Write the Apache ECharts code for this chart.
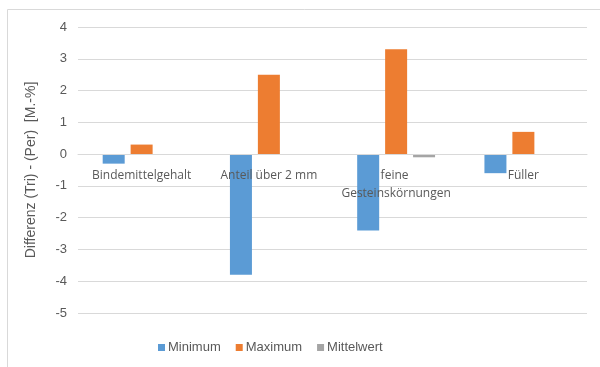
<!DOCTYPE html>
<html>
<head>
<meta charset="utf-8">
<script src="https://cdn.jsdelivr.net/npm/echarts@6/dist/echarts.min.js"></script>
<style>
  html, body { margin: 0; padding: 0; background: #fff; }
  #chart { width: 600px; height: 367px; }
</style>
</head>
<body>
<div id="chart"></div>
<script>
// Kategorien und Werte
var categories = ['Bindemittelgehalt', 'Anteil über 2 mm', 'feine Gesteinskörnungen', 'Füller'];
var minimum = [-0.3, -3.8, -2.4, -0.6];
var maximum = [0.3, 2.5, 3.3, 0.7];
var mittelwert = [0, 0, -0.1, 0];
var seriesNames = ['Minimum', 'Maximum', 'Mittelwert'];
var colors = ['#5B9BD5', '#ED7D31', '#A5A5A5'];

var yMin = -5, yMax = 4;
var gridTop = 27, gridBottom = 54;
var chartH = 367;

var chart = echarts.init(document.getElementById('chart'));

// Abstand der Nulllinie vom unteren Rand des Plotbereichs
var plotH = chartH - gridTop - gridBottom;
var zeroOffset = plotH * (0 - yMin) / (yMax - yMin);

function barSeries(name, data, color) {
    return {
        name: name,
        type: 'bar',
        data: data,
        barWidth: 22,
        barGap: '27%',
        itemStyle: { color: color }
    };
}

chart.setOption({
    animation: false,
    color: colors,
    graphic: [{
        type: 'rect',
        shape: { x: 7.5, y: 9.5, width: 620, height: 400 },
        style: { fill: 'none', stroke: '#d9d9d9', lineWidth: 1 },
        silent: true
    }],
    grid: { left: 78, right: 13, top: gridTop, bottom: gridBottom },
    legend: {
        data: seriesNames,
        left: 153,
        top: 336,
        itemWidth: 7,
        itemHeight: 7,
        itemGap: 15,
        icon: 'rect',
        textStyle: { fontFamily: 'Liberation Sans', fontSize: 13, color: '#595959', padding: [0, 0, 0, -2] }
    },
    xAxis: {
        type: 'category',
        data: categories,
        position: 'bottom',
        offset: -zeroOffset,
        z: 5,
        axisLine: { onZero: false, lineStyle: { color: '#d9d9d9' } },
        axisTick: { show: false },
        axisLabel: {
            margin: 12,
            interval: 0,
            width: 125,
            overflow: 'break',
            fontFamily: 'Open Sans',
            fontSize: 12,
            lineHeight: 18,
            color: '#595959'
        }
    },
    yAxis: {
        type: 'value',
        min: yMin,
        max: yMax,
        interval: 1,
        name: 'Differenz (Tri) - (Per)  [M.-%]',
        nameLocation: 'middle',
        nameGap: 40,
        nameTextStyle: { fontFamily: 'Liberation Sans', fontSize: 14, color: '#595959' },
        axisLine: { show: false },
        axisTick: { show: false },
        axisLabel: { fontFamily: 'Liberation Sans', fontSize: 13, color: '#595959', margin: 11 },
        splitLine: { lineStyle: { color: '#d9d9d9' } }
    },
    series: [
        barSeries(seriesNames[0], minimum, colors[0]),
        barSeries(seriesNames[1], maximum, colors[1]),
        barSeries(seriesNames[2], mittelwert, colors[2])
    ]
});
</script>
</body>
</html>
